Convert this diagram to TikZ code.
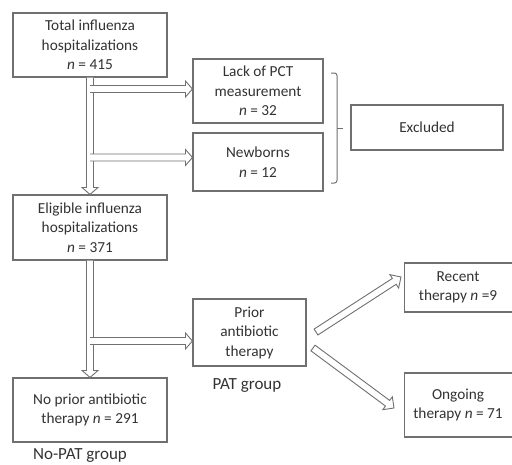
\documentclass[tikz,border=0pt]{standalone}
\usepackage{fontspec}
\setmainfont{Carlito}
\usetikzlibrary{calc}
\definecolor{boxgray}{HTML}{707070}
\definecolor{txtgray}{HTML}{333333}
\tikzset{
  box/.style={draw=boxgray, line width=1.1pt, align=center, inner sep=0pt,
    font=\fontsize{15.3}{19.5}\selectfont, text=txtgray},
  grouplabel/.style={font=\fontsize{17}{19}\selectfont, text=txtgray, inner sep=0pt},
  harrow/.style={draw=boxgray, fill=white, line width=0.9pt, line join=miter},
}
% hollow block arrow, open tail
\newcommand{\hollowopen}[2]{%
  \coordinate (hb) at ($(#2)!7pt!(#1)$);
  \path[harrow] ($(#1)!3.5pt!90:(#2)$) -- ($(hb)!3.5pt!90:(#2)$) -- ($(hb)!8pt!90:(#2)$) -- (#2)
    -- ($(hb)!8pt!-90:(#2)$) -- ($(hb)!3.5pt!-90:(#2)$) -- ($(#1)!3.5pt!-90:(#2)$);}
% hollow block arrow, closed tail
\newcommand{\hollowclosed}[2]{%
  \coordinate (hb) at ($(#2)!8pt!(#1)$);
  \path[harrow] ($(#1)!3.5pt!90:(#2)$) -- ($(hb)!3.5pt!90:(#2)$) -- ($(hb)!8pt!90:(#2)$) -- (#2)
    -- ($(hb)!8pt!-90:(#2)$) -- ($(hb)!3.5pt!-90:(#2)$) -- ($(#1)!3.5pt!-90:(#2)$) -- cycle;}
\begin{document}
\begin{tikzpicture}[x=1pt,y=-1pt]
\useasboundingbox[fill=white] (0,0) rectangle (512,464);
% boxes
\node[box, minimum width=154pt, minimum height=64pt] (total) at (90,45)
  {Total influenza\\hospitalizations\\\textit{n} = 415};
\node[box, minimum width=130pt, minimum height=64pt] (lack) at (258,91)
  {Lack of PCT\\measurement\\\textit{n} = 32};
\node[box, minimum width=130pt, minimum height=58pt] (newb) at (258,162)
  {Newborns\\\textit{n} = 12};
\node[box, minimum width=152pt, minimum height=45pt] (excl) at (427,127.5)
  {Excluded};
\node[box, minimum width=154pt, minimum height=65pt] (elig) at (90,227.5)
  {Eligible influenza\\hospitalizations\\\textit{n} = 371};
\node[box, minimum width=113pt, minimum height=67pt] (prior) at (249.5,332.5)
  {Prior\\antibiotic\\therapy};
\node[box, minimum width=154pt, minimum height=64pt] (noprior) at (90,410)
  {No prior antibiotic\\therapy \textit{n} = 291};
\node[box, minimum width=110pt, minimum height=49pt, anchor=west] (recent) at (404,287.5)
  {\hspace*{-3pt}Recent\\\hspace*{-3pt}therapy \textit{n} =9};
\node[box, minimum width=110pt, minimum height=64pt, anchor=west] (ongoing) at (404,405)
  {\hspace*{-3pt}Ongoing\\\hspace*{-3pt}therapy \textit{n} = 71};
% group labels
\node[grouplabel] (patlab) at (247,386) {PAT group};
\node[grouplabel] (nopatlab) at (80,456) {No-PAT group};
% bracket
\draw[boxgray, line width=1pt, rounded corners=2.5pt]
  (331,73) -- (337,73) -- (337,183) -- (331,183);
\draw[boxgray, line width=1pt] (337,128) -- (343,128);
% arrows
\hollowopen{total.south}{elig.north}
\coordinate (t1) at (total.south |- 0,89);
\coordinate (h1) at (lack.west |- t1);
\hollowopen{t1}{h1}
\coordinate (t2) at (total.south |- 0,157.5);
\coordinate (h2) at (newb.west |- t2);
\hollowopen{t2}{h2}
\hollowopen{elig.south}{noprior.north}
\coordinate (t3) at (elig.south |- 0,341);
\coordinate (h3) at (prior.west |- t3);
\hollowopen{t3}{h3}
\coordinate (t4) at (316,332);
\coordinate (h4) at (401,277);
\hollowclosed{t4}{h4}
\coordinate (t5) at (313,348);
\coordinate (h5) at (394,408);
\hollowclosed{t5}{h5}
\end{tikzpicture}
\end{document}
